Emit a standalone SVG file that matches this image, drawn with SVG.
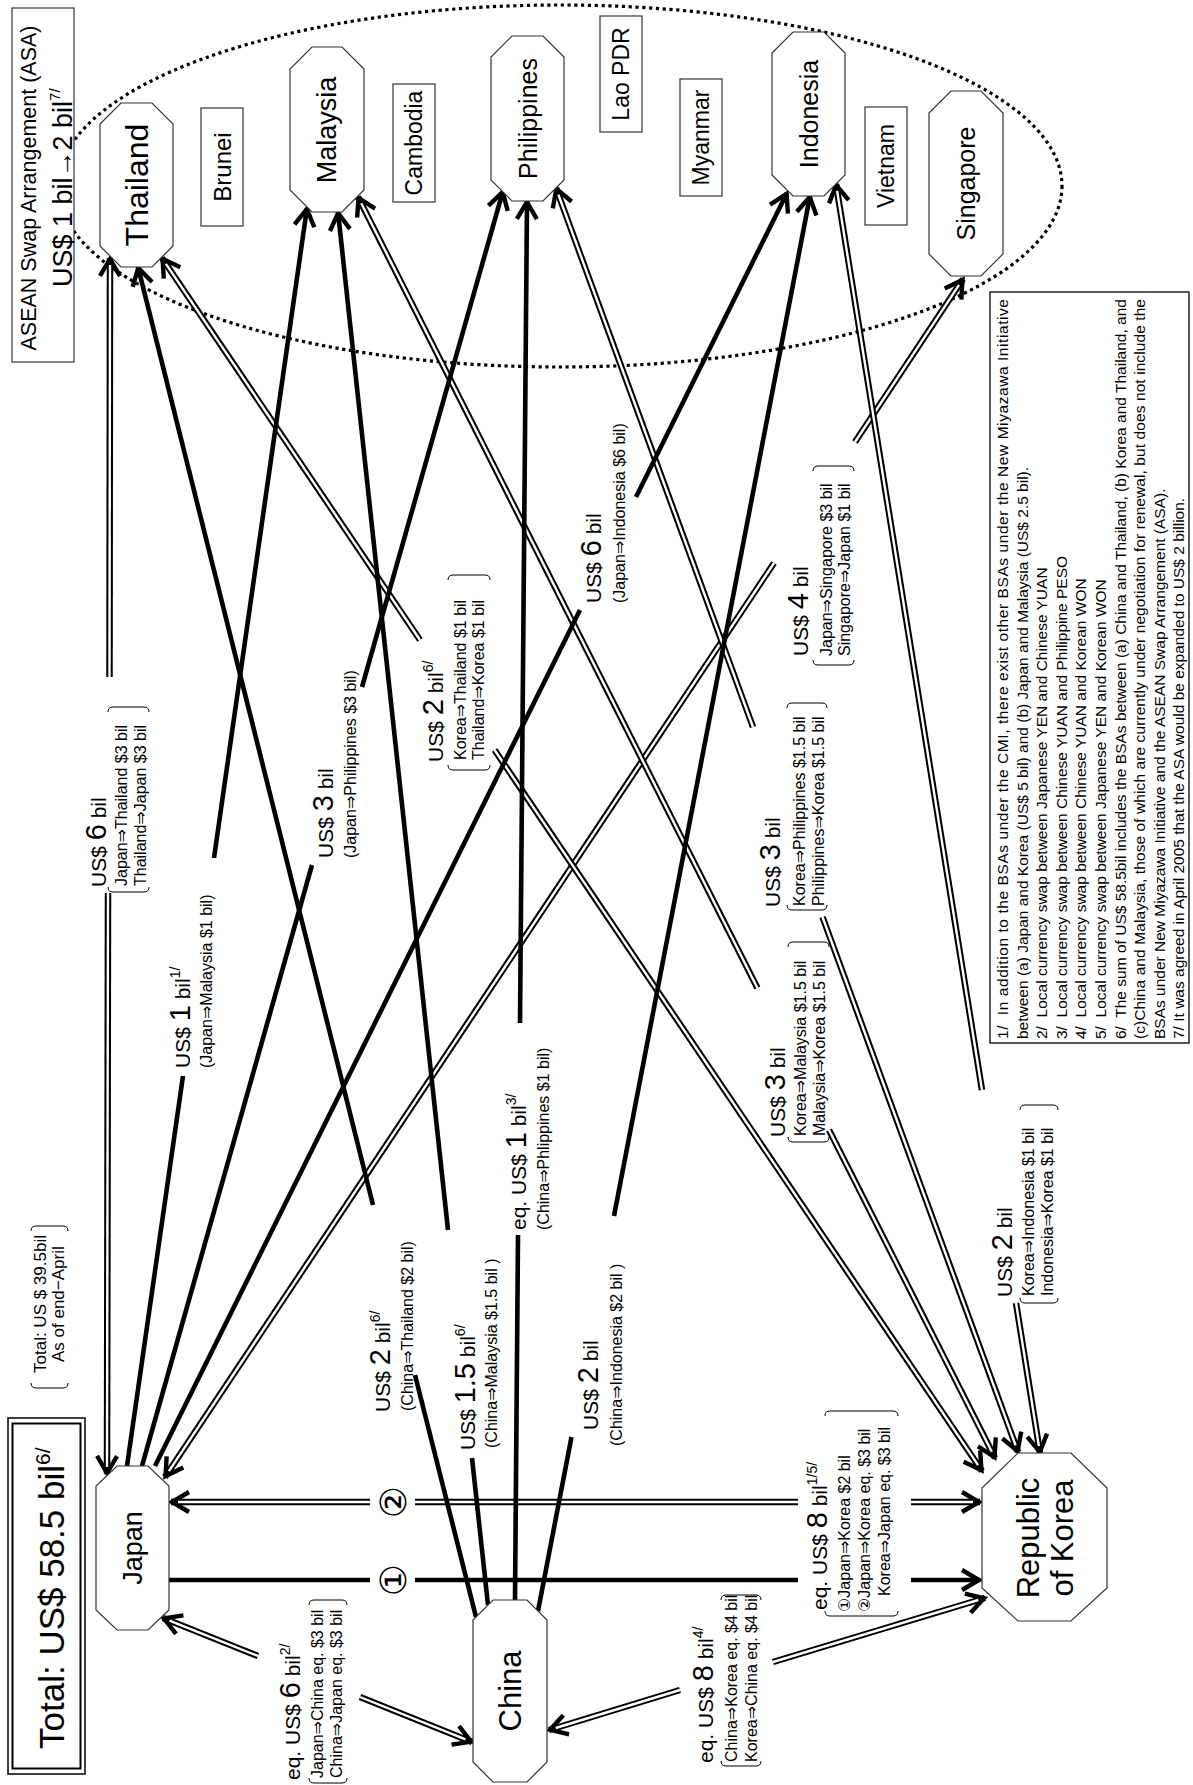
<svg xmlns="http://www.w3.org/2000/svg" width="1193" height="1785" viewBox="0 0 1193 1785">
<style>
text{font-family:"Liberation Sans",Arial,"DejaVu Sans","Noto Sans CJK JP",sans-serif;fill:#000}
.s{font-size:16px}
.s17{font-size:17px}
.b{font-size:21px}
.n{font-size:29px}
.u{font-size:14px}
.c{text-anchor:middle;dominant-baseline:central}
.fn{font-size:15.5px}
.nd{fill:#fff;stroke:#333;stroke-width:1.2}
.th{stroke:#000;stroke-width:4.6;fill:none}
.db{stroke:#000;stroke-width:6.5;fill:none}
.dw{stroke:#fff;stroke-width:2.4;fill:none}
.br{fill:none;stroke:#000;stroke-width:1}
.circ{font-family:"DejaVu Sans","Noto Sans CJK JP",sans-serif;font-size:36px}
</style>
<defs>
<marker id="ah" viewBox="-22 -14 28 28" markerWidth="28" markerHeight="28" refX="1" refY="0" orient="auto" markerUnits="userSpaceOnUse"><path d="M-17,-10 L0,0 L-17,10" fill="none" stroke="#000" stroke-width="4.4"/></marker>
<marker id="ahs" viewBox="-22 -14 28 28" markerWidth="28" markerHeight="28" refX="1" refY="0" orient="auto-start-reverse" markerUnits="userSpaceOnUse"><path d="M-17,-10 L0,0 L-17,10" fill="none" stroke="#000" stroke-width="4.4"/></marker>
</defs>
<rect width="1193" height="1785" fill="#fff"/>

<g id="asean-ellipse">
<ellipse cx="560" cy="186" rx="502" ry="181" fill="none" stroke="#000" stroke-width="3.2" stroke-dasharray="3.2 3.6"/>
</g>

<g id="asa-box">
<rect x="12" y="8" width="62" height="354" fill="#fff" stroke="#333" stroke-width="1.2"/>
<text transform="translate(36,188) rotate(-90)" style="font-size:21.5px;text-anchor:middle">ASEAN Swap Arrangement (ASA)</text>
<text transform="translate(72,287) rotate(-90)" style="font-size:27px">US$ 1 bil→2 bil<tspan style="font-size:15px" dy="-12">7/</tspan></text>
</g>

<g id="connectors">
<g id="c-japan-thailand">
<line class="db" x1="110" y1="258" x2="109.5" y2="677" marker-start="url(#ahs)"/>
<line class="dw" x1="110" y1="265" x2="109.5" y2="677"/>
<line class="db" x1="108" y1="893" x2="107" y2="1474" marker-end="url(#ah)"/>
<line class="dw" x1="108" y1="893" x2="107" y2="1467"/>
</g>
<g id="c-japan-singapore">
<line class="db" x1="963" y1="279" x2="855" y2="442" marker-start="url(#ahs)"/>
<line class="dw" x1="959.1" y1="284.8" x2="855" y2="442"/>
<line class="db" x1="774" y1="563" x2="165" y2="1477" marker-end="url(#ah)"/>
<line class="dw" x1="774" y1="563" x2="168.9" y2="1471.2"/>
</g>
<g id="c-japan-china">
<line class="db" x1="163" y1="1618" x2="258" y2="1656" marker-start="url(#ahs)"/>
<line class="dw" x1="169.5" y1="1620.6" x2="258" y2="1656"/>
<line class="db" x1="360" y1="1697" x2="472" y2="1742" marker-end="url(#ah)"/>
<line class="dw" x1="360" y1="1697" x2="465.5" y2="1739.4"/>
</g>
<g id="c-china-korea">
<line class="db" x1="549" y1="1730" x2="680" y2="1690" marker-start="url(#ahs)"/>
<line class="dw" x1="555.7" y1="1728" x2="680" y2="1690"/>
<line class="db" x1="773" y1="1662" x2="985" y2="1598" marker-end="url(#ah)"/>
<line class="dw" x1="773" y1="1662" x2="978.3" y2="1600"/>
</g>
<g id="c-japan-korea-2">
<line class="db" x1="171" y1="1502" x2="370" y2="1502" marker-start="url(#ahs)"/>
<line class="dw" x1="178" y1="1502" x2="370" y2="1502"/>
<line class="db" x1="415" y1="1502" x2="798" y2="1502"/>
<line class="dw" x1="415" y1="1502" x2="798" y2="1502"/>
<line class="db" x1="911" y1="1502" x2="980" y2="1502" marker-end="url(#ah)"/>
<line class="dw" x1="911" y1="1502" x2="973" y2="1502"/>
</g>
<g id="c-korea-thailand">
<line class="db" x1="162" y1="258" x2="420" y2="640" marker-start="url(#ahs)"/>
<line class="dw" x1="165.9" y1="263.8" x2="420" y2="640"/>
<line class="db" x1="494.6" y1="750" x2="982" y2="1471" marker-end="url(#ah)"/>
<line class="dw" x1="494.6" y1="750" x2="978.1" y2="1465.2"/>
</g>
<g id="c-korea-malaysia">
<line class="db" x1="358" y1="197" x2="757.4" y2="988" marker-start="url(#ahs)"/>
<line class="dw" x1="361.2" y1="203.2" x2="757.4" y2="988"/>
<line class="db" x1="829" y1="1130" x2="995" y2="1458" marker-end="url(#ah)"/>
<line class="dw" x1="829" y1="1130" x2="991.8" y2="1451.8"/>
</g>
<g id="c-korea-philippines">
<line class="db" x1="556" y1="188" x2="753" y2="727" marker-start="url(#ahs)"/>
<line class="dw" x1="558.4" y1="194.6" x2="753" y2="727"/>
<line class="db" x1="822.5" y1="917" x2="1018" y2="1452" marker-end="url(#ah)"/>
<line class="dw" x1="822.5" y1="917" x2="1015.6" y2="1445.4"/>
</g>
<g id="c-korea-indonesia">
<line class="db" x1="836" y1="184" x2="982" y2="1090" marker-start="url(#ahs)"/>
<line class="dw" x1="837.1" y1="190.9" x2="982" y2="1090"/>
<line class="db" x1="1016" y1="1303" x2="1040" y2="1453" marker-end="url(#ah)"/>
<line class="dw" x1="1016" y1="1303" x2="1038.9" y2="1446.1"/>
</g>
<g id="c-japan-malaysia">
<line class="th" x1="307" y1="208" x2="214" y2="858" marker-start="url(#ahs)"/>
<line class="th" x1="183" y1="1076" x2="127" y2="1466"/>
</g>
<g id="c-japan-philippines">
<line class="th" x1="503" y1="191" x2="362" y2="687" marker-start="url(#ahs)"/>
<line class="th" x1="312" y1="865" x2="142" y2="1466"/>
</g>
<g id="c-japan-indonesia">
<line class="th" x1="787" y1="193" x2="636" y2="497" marker-start="url(#ahs)"/>
<line class="th" x1="580" y1="610" x2="155" y2="1466"/>
</g>
<g id="c-japan-korea-1">
<line class="th" x1="169" y1="1580" x2="370" y2="1580"/>
<line class="th" x1="415" y1="1580" x2="798" y2="1580"/>
<line class="th" x1="911" y1="1580" x2="980" y2="1580" marker-end="url(#ah)"/>
</g>
<g id="c-china-thailand">
<line class="th" x1="138" y1="267" x2="373" y2="1205" marker-start="url(#ahs)"/>
<line class="th" x1="415" y1="1375" x2="476" y2="1617"/>
</g>
<g id="c-china-malaysia">
<line class="th" x1="338" y1="212" x2="448" y2="1230" marker-start="url(#ahs)"/>
<line class="th" x1="472" y1="1458" x2="488" y2="1605"/>
</g>
<g id="c-china-philippines">
<line class="th" x1="527" y1="201" x2="520" y2="1023" marker-start="url(#ahs)"/>
<line class="th" x1="518" y1="1235" x2="515" y2="1600"/>
</g>
<g id="c-china-indonesia">
<line class="th" x1="810" y1="196" x2="614" y2="1216" marker-start="url(#ahs)"/>
<line class="th" x1="571.5" y1="1437" x2="538" y2="1611"/>
</g>
</g>

<g id="n-thailand"><polygon class="nd" points="121,103 152,103 173,124 173,246 152,267 121,267 100,246 100,124"/><text class="c" transform="translate(137,185) rotate(-90)" style="font-size:32px">Thailand</text></g>
<g id="n-brunei"><rect class="nd" x="201" y="108" width="42" height="118"/><text class="c" transform="translate(222,167) rotate(-90)" style="font-size:24px">Brunei</text></g>
<g id="n-malaysia"><polygon class="nd" points="312,47 342,47 364,69 364,190 342,212 312,212 290,190 290,69"/><text class="c" transform="translate(327,130) rotate(-90)" style="font-size:27px">Malaysia</text></g>
<g id="n-cambodia"><rect class="nd" x="393" y="84" width="42" height="118"/><text class="c" transform="translate(414,143) rotate(-90)" style="font-size:23px">Cambodia</text></g>
<g id="n-philippines"><polygon class="nd" points="512,36 543,36 564,57 564,180 543,201 512,201 491,180 491,57"/><text class="c" transform="translate(527.5,118.5) rotate(-90)" style="font-size:25px">Philippines</text></g>
<g id="n-laopdr"><rect class="nd" x="600" y="16" width="42" height="116"/><text class="c" transform="translate(621,74) rotate(-90)" style="font-size:23px">Lao PDR</text></g>
<g id="n-myanmar"><rect class="nd" x="680" y="79" width="42" height="117"/><text class="c" transform="translate(701,137.5) rotate(-90)" style="font-size:23px">Myanmar</text></g>
<g id="n-indonesia"><polygon class="nd" points="793,32 824,32 845,53 845,175 824,196 793,196 772,175 772,53"/><text class="c" transform="translate(808.5,114) rotate(-90)" style="font-size:25px">Indonesia</text></g>
<g id="n-vietnam"><rect class="nd" x="865" y="107" width="42" height="118"/><text class="c" transform="translate(886,166) rotate(-90)" style="font-size:23px">Vietnam</text></g>
<g id="n-singapore"><polygon class="nd" points="951,91 981,91 1003,113 1003,254 981,276 951,276 929,254 929,113"/><text class="c" transform="translate(966,183.5) rotate(-90)" style="font-size:25px">Singapore</text></g>
<g id="n-japan"><polygon class="nd" points="117,1466 148,1466 169,1486 169,1610 148,1630 117,1630 96,1610 96,1486"/><text class="c" transform="translate(132.5,1548) rotate(-90)" style="font-size:27px">Japan</text></g>
<g id="n-china"><polygon class="nd" points="493,1600 527,1600 547,1620 547,1762 527,1782 493,1782 473,1762 473,1620"/><text class="c" transform="translate(510,1691) rotate(-90)" style="font-size:31px">China</text></g>
<g id="n-korea"><polygon class="nd" points="1018,1453 1071,1453 1107,1488 1107,1588 1071,1621 1018,1621 982,1588 982,1488"/><text class="c" transform="translate(1028,1538) rotate(-90)" style="font-size:31px">Republic</text><text class="c" transform="translate(1062,1538) rotate(-90)" style="font-size:31px">of Korea</text></g>

<g id="total-box">
<rect x="8" y="1418" width="77" height="356" fill="none" stroke="#000" stroke-width="1.5"/>
<rect x="12.5" y="1423.5" width="68" height="345" fill="none" stroke="#000" stroke-width="2"/>
<text transform="translate(64,1749) rotate(-90)" style="font-size:35px">Total: US$ 58.5 bil<tspan style="font-size:21px" dy="-14">6/</tspan></text>
</g>
<g id="total-asof">
<path class="br" d="M31,1383 Q31,1388 36,1388 L63,1388 Q68,1388 68,1383 M31,1231 Q31,1226 36,1226 L63,1226 Q68,1226 68,1231"/>
<text class="s17" transform="translate(46,1373) rotate(-90)">Total: US $ 39.5bil</text>
<text class="s17" transform="translate(64,1362) rotate(-90)">As of end−April</text>
</g>

<g id="labels">
<g id="l-japan-thailand">
<text transform="translate(106,887) rotate(-90)"><tspan class="b">US$ </tspan><tspan class="n">6</tspan><tspan class="b"> bil</tspan></text>
<path class="br" d="M108,887 Q108,892 113,892 L144,892 Q149,892 149,887 M108,712 Q108,707 113,707 L144,707 Q149,707 149,712"/>
<text class="s" transform="translate(127,886) rotate(-90)">Japan⇒Thailand $3 bil</text>
<text class="s" transform="translate(146,886) rotate(-90)">Thailand⇒Japan $3 bil</text>
</g>
<g id="l-japan-malaysia">
<text transform="translate(190,1068) rotate(-90)"><tspan class="b">US$ </tspan><tspan class="n">1</tspan><tspan class="b"> bil</tspan><tspan class="u" dy="-10">1/</tspan></text>
<text class="s" transform="translate(212,1068) rotate(-90)">(Japan⇒Malaysia $1 bil)</text>
</g>
<g id="l-japan-philippines">
<text transform="translate(333,858) rotate(-90)"><tspan class="b">US$ </tspan><tspan class="n">3</tspan><tspan class="b"> bil</tspan></text>
<text class="s" transform="translate(356,858) rotate(-90)">(Japan⇒Philippines $3 bil)</text>
</g>
<g id="l-japan-indonesia">
<text transform="translate(601,603) rotate(-90)"><tspan class="b">US$ </tspan><tspan class="n">6</tspan><tspan class="b"> bil</tspan></text>
<text class="s" transform="translate(625,603) rotate(-90)">(Japan⇒Indonesia $6 bil)</text>
</g>
<g id="l-japan-singapore">
<text transform="translate(808,656) rotate(-90)"><tspan class="b">US$ </tspan><tspan class="n">4</tspan><tspan class="b"> bil</tspan></text>
<path class="br" d="M813,660 Q813,665 818,665 L849,665 Q854,665 854,660 M813,471 Q813,466 818,466 L849,466 Q854,466 854,471"/>
<text class="s" transform="translate(832,656) rotate(-90)">Japan⇒Singapore $3 bil</text>
<text class="s" transform="translate(850,656) rotate(-90)">Singapore⇒Japan $1 bil</text>
</g>
<g id="l-japan-china">
<text transform="translate(300,1780) rotate(-90)"><tspan class="b">eq. US$ </tspan><tspan class="n">6</tspan><tspan class="b"> bil</tspan><tspan class="u" dy="-10">2/</tspan></text>
<path class="br" d="M309,1778 Q309,1783 314,1783 L342,1783 Q347,1783 347,1778 M309,1605 Q309,1600 314,1600 L342,1600 Q347,1600 347,1605"/>
<text class="s" transform="translate(323,1778) rotate(-90)">Japan⇒China eq. $3 bil</text>
<text class="s" transform="translate(342,1778) rotate(-90)">China⇒Japan eq. $3 bil</text>
</g>
<g id="l-china-korea">
<text transform="translate(713,1763) rotate(-90)"><tspan class="b">eq. US$ </tspan><tspan class="n">8</tspan><tspan class="b"> bil</tspan><tspan class="u" dy="-10">4/</tspan></text>
<path class="br" d="M721,1761 Q721,1766 726,1766 L756,1766 Q761,1766 761,1761 M721,1600 Q721,1595 726,1595 L756,1595 Q761,1595 761,1600"/>
<text class="s" transform="translate(737,1762) rotate(-90)">China⇒Korea eq. $4 bil</text>
<text class="s" transform="translate(757,1762) rotate(-90)">Korea⇒China eq. $4 bil</text>
</g>
<g id="l-japan-korea">
<text class="circ c" transform="translate(393,1502) rotate(-90)">②</text>
<text class="circ c" transform="translate(393,1580) rotate(-90)">①</text>
<text transform="translate(827,1610) rotate(-90)"><tspan class="b">eq. US$ </tspan><tspan class="n">8</tspan><tspan class="b"> bil</tspan><tspan class="u" dy="-10">1/5/</tspan></text>
<path class="br" d="M825,1611 Q825,1616 830,1616 L893,1616 Q898,1616 898,1611 M825,1416 Q825,1411 830,1411 L893,1411 Q898,1411 898,1416"/>
<text class="s" transform="translate(850,1612) rotate(-90)">①Japan⇒Korea $2 bil</text>
<text class="s" transform="translate(870,1612) rotate(-90)">②Japan⇒Korea eq. $3 bil</text>
<text class="s" transform="translate(890,1596) rotate(-90)">Korea⇒Japan eq. $3 bil</text>
</g>
<g id="l-china-thailand">
<text transform="translate(390,1412) rotate(-90)"><tspan class="b">US$ </tspan><tspan class="n">2</tspan><tspan class="b"> bil</tspan><tspan class="u" dy="-10">6/</tspan></text>
<text class="s" transform="translate(413,1411) rotate(-90)">(China⇒Thailand $2 bil)</text>
</g>
<g id="l-china-malaysia">
<text transform="translate(475,1450) rotate(-90)"><tspan class="b">US$ </tspan><tspan class="n">1.5</tspan><tspan class="b"> bil</tspan><tspan class="u" dy="-10">6/</tspan></text>
<text class="s" transform="translate(497,1448) rotate(-90)">(China⇒Malaysia $1.5 bil )</text>
</g>
<g id="l-china-philippines">
<text transform="translate(526,1230) rotate(-90)"><tspan class="b">eq. US$ </tspan><tspan class="n">1</tspan><tspan class="b"> bil</tspan><tspan class="u" dy="-10">3/</tspan></text>
<text class="s" transform="translate(549,1230) rotate(-90)">(China⇒Phlippines $1 bil)</text>
</g>
<g id="l-china-indonesia">
<text transform="translate(598,1430) rotate(-90)"><tspan class="b">US$ </tspan><tspan class="n">2</tspan><tspan class="b"> bil</tspan></text>
<text class="s" transform="translate(622,1446) rotate(-90)">(China⇒Indonesia $2 bil )</text>
</g>
<g id="l-korea-thailand">
<text transform="translate(443,762) rotate(-90)"><tspan class="b">US$ </tspan><tspan class="n">2</tspan><tspan class="b"> bil</tspan><tspan class="u" dy="-10">6/</tspan></text>
<path class="br" d="M448,765 Q448,770 453,770 L485,770 Q490,770 490,765 M448,580 Q448,575 453,575 L485,575 Q490,575 490,580"/>
<text class="s" transform="translate(466,760) rotate(-90)">Korea⇒Thailand $1 bil</text>
<text class="s" transform="translate(484,760) rotate(-90)">Thailand⇒Korea $1 bil</text>
</g>
<g id="l-korea-malaysia">
<text transform="translate(785,1137) rotate(-90)"><tspan class="b">US$ </tspan><tspan class="n">3</tspan><tspan class="b"> bil</tspan></text>
<path class="br" d="M788,1137 Q788,1142 793,1142 L824,1142 Q829,1142 829,1137 M788,947 Q788,942 793,942 L824,942 Q829,942 829,947"/>
<text class="s" transform="translate(806,1136) rotate(-90)">Korea⇒Malaysia $1.5 bil</text>
<text class="s" transform="translate(825,1136) rotate(-90)">Malaysia⇒Korea $1.5 bil</text>
</g>
<g id="l-korea-philippines">
<text transform="translate(780,907) rotate(-90)"><tspan class="b">US$ </tspan><tspan class="n">3</tspan><tspan class="b"> bil</tspan></text>
<path class="br" d="M787,905 Q787,910 792,910 L822,910 Q827,910 827,905 M787,708 Q787,703 792,703 L822,703 Q827,703 827,708"/>
<text class="s" transform="translate(805,906) rotate(-90)">Korea⇒Philippines $1.5 bil</text>
<text class="s" transform="translate(824,906) rotate(-90)">Philippines⇒Korea $1.5 bil</text>
</g>
<g id="l-korea-indonesia">
<text transform="translate(1012,1297) rotate(-90)"><tspan class="b">US$ </tspan><tspan class="n">2</tspan><tspan class="b"> bil</tspan></text>
<path class="br" d="M1020,1298 Q1020,1303 1025,1303 L1053,1303 Q1058,1303 1058,1298 M1020,1110 Q1020,1105 1025,1105 L1053,1105 Q1058,1105 1058,1110"/>
<text class="s" transform="translate(1034,1296) rotate(-90)">Korea⇒Indonesia $1 bil</text>
<text class="s" transform="translate(1053,1296) rotate(-90)">Indonesia⇒Korea $1 bil</text>
</g>
</g>

<g id="footnotes">
<rect x="990" y="292" width="199" height="751" fill="#fff" stroke="#000" stroke-width="1.3"/>
<text class="fn" transform="translate(1008,1039) rotate(-90)" textLength="740" lengthAdjust="spacing">1/&#160; In addition to the BSAs under the CMI, there exist other BSAs under the New Miyazawa Initiative</text>
<text class="fn" transform="translate(1027.6,1039) rotate(-90)">between (a) Japan and Korea (US$ 5 bil) and (b) Japan and Malaysia (US$ 2.5 bil).</text>
<text class="fn" transform="translate(1047.2,1039) rotate(-90)">2/&#160; Local currency swap between Japanese YEN and Chinese YUAN</text>
<text class="fn" transform="translate(1066.8,1039) rotate(-90)">3/&#160; Local currency swap between Chinese YUAN and Philippine PESO</text>
<text class="fn" transform="translate(1086.4,1039) rotate(-90)">4/&#160; Local currency swap between Chinese YUAN and Korean WON</text>
<text class="fn" transform="translate(1106,1039) rotate(-90)">5/&#160; Local currency swap between Japanese YEN and Korean WON</text>
<text class="fn" transform="translate(1125.6,1039) rotate(-90)" textLength="740" lengthAdjust="spacing">6/&#160; The sum of US$ 58.5bil includes the BSAs between (a) China and Thailand, (b) Korea and Thailand, and</text>
<text class="fn" transform="translate(1145.2,1039) rotate(-90)" textLength="740" lengthAdjust="spacing">(c)China and Malaysia, those of which are currently under negotiation for renewal, but does not include the</text>
<text class="fn" transform="translate(1164.8,1039) rotate(-90)">BSAs under New Miyazawa Initiative and the ASEAN Swap Arrangement (ASA).</text>
<text class="fn" transform="translate(1184.4,1039) rotate(-90)">7/ It was agreed in April 2005 that the ASA would be expanded to US$ 2 billion.</text>
</g>
</svg>
